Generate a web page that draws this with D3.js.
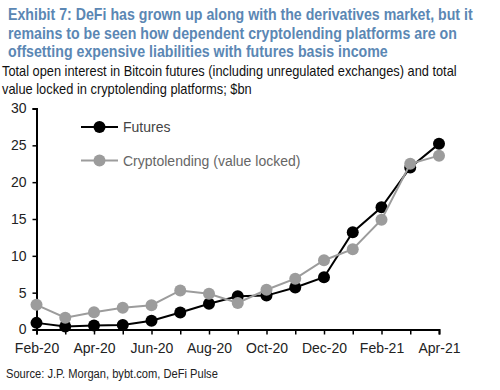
<!DOCTYPE html>
<html>
<head>
<meta charset="utf-8">
<script src="https://cdn.jsdelivr.net/npm/d3@7"></script>
<style>
  body { margin: 0; background: #fff; }
  svg { font-family: "Liberation Sans", Arial, sans-serif; }
</style>
</head>
<body>
<div id="chart"></div>
<script>
const months = ["Feb-20","Mar-20","Apr-20","May-20","Jun-20","Jul-20","Aug-20","Sep-20",
                "Oct-20","Nov-20","Dec-20","Jan-21","Feb-21","Mar-21","Apr-21"];
const futures = [0.9, 0.4, 0.55, 0.6, 1.2, 2.3, 3.5, 4.5, 4.6, 5.7, 7.1, 13.2, 16.6, 22.0, 25.2];
const cryptolending = [3.35, 1.6, 2.35, 2.95, 3.3, 5.3, 4.85, 3.6, 5.4, 6.9, 9.4, 10.9, 14.9, 22.5, 23.6];
const yTicks = [0, 5, 10, 15, 20, 25, 30];
const seriesNames = ["Futures", "Cryptolending (value locked)"];

const titleLines = [
  "Exhibit 7: DeFi has grown up along with the derivatives market, but it",
  "remains to be seen how dependent cryptolending platforms are on",
  "offsetting expensive liabilities with futures basis income"
];
const subtitleLines = [
  "Total open interest in Bitcoin futures (including unregulated exchanges) and total",
  "value locked in cryptolending platforms; $bn"
];
const source = "Source: J.P. Morgan, bybt.com, DeFi Pulse";

const W = 500, H = 390;
const svg = d3.select("#chart").append("svg").attr("width", W).attr("height", H);

// text squeezed horizontally to the width it has in the original (narrow font there)
function fitText(str, px, py, width, size, weight, color) {
  const t = svg.append("text")
    .attr("font-size", size).attr("font-weight", weight)
    .attr("fill", color)
    .text(str);
  const natural = t.node().getComputedTextLength();
  const k = Math.min(1, width / natural);
  t.attr("transform", `translate(${px},${py}) scale(${k},1)`);
  return t;
}

const titleWidths = [465, 449, 380];
titleLines.forEach((t, i) => {
  fitText(t, 8, 20 + i * 18.5, titleWidths[i], 16, "bold", "#5b87b4");
});
const subWidths = [455, 250];
subtitleLines.forEach((t, i) => {
  fitText(t, 2, 76 + i * 17.5, subWidths[i], 14, "normal", "#111");
});

const plot = { left: 36.5, right: 439, top: 108.5, bottom: 329.5 };

const x = d3.scalePoint().domain(months).range([plot.left, plot.right]);
const y = d3.scaleLinear().domain([0, 30]).range([plot.bottom, plot.top]);

// y axis
const yAxis = svg.append("g")
  .attr("transform", `translate(${plot.left},0)`)
  .call(d3.axisLeft(y).tickValues(yTicks).tickSize(4).tickPadding(6));
yAxis.select(".domain").attr("stroke", "#000").attr("stroke-width", 2);
yAxis.selectAll(".tick line").attr("stroke", "#000").attr("stroke-width", 1.5);
yAxis.selectAll("text").attr("font-size", 14).attr("fill", "#222")
  .attr("font-family", "Liberation Sans, Arial, sans-serif");

// x axis
const xAxis = svg.append("g")
  .attr("transform", `translate(0,${plot.bottom})`)
  .call(d3.axisBottom(x).tickSize(5).tickPadding(9)
    .tickFormat((d, i) => i % 2 === 0 ? d : ""));
xAxis.select(".domain").attr("stroke", "#000").attr("stroke-width", 2);
xAxis.selectAll(".tick line").attr("stroke", "#000").attr("stroke-width", 1.5);
xAxis.selectAll("text").attr("font-size", 14).attr("fill", "#222")
  .attr("font-family", "Liberation Sans, Arial, sans-serif");

const series = [
  { name: seriesNames[0], values: futures, color: "#000" },
  { name: seriesNames[1], values: cryptolending, color: "#9c9c9c" }
];

const line = d3.line()
  .x((d, i) => x(months[i]))
  .y(d => y(d));

series.forEach(s => {
  svg.append("path")
    .datum(s.values)
    .attr("d", line)
    .attr("fill", "none")
    .attr("stroke", s.color)
    .attr("stroke-width", 2);
  svg.selectAll(null)
    .data(s.values)
    .enter()
    .append("circle")
    .attr("cx", (d, i) => x(months[i]))
    .attr("cy", d => y(d))
    .attr("r", 6)
    .attr("fill", s.color);
});

// legend
series.forEach((s, i) => {
  const ly = 127 + i * 33.5;
  svg.append("line")
    .attr("x1", 81).attr("x2", 118).attr("y1", ly).attr("y2", ly)
    .attr("stroke", s.color).attr("stroke-width", 2);
  svg.append("circle").attr("cx", 99.5).attr("cy", ly).attr("r", 6).attr("fill", s.color);
  svg.append("text")
    .attr("x", 123).attr("y", ly + 5)
    .attr("font-size", 14)
    .attr("fill", i === 0 ? "#444" : "#666")
    .text(s.name);
});

fitText(source, 6, 378, 212, 12.5, "normal", "#222");
</script>
</body>
</html>
